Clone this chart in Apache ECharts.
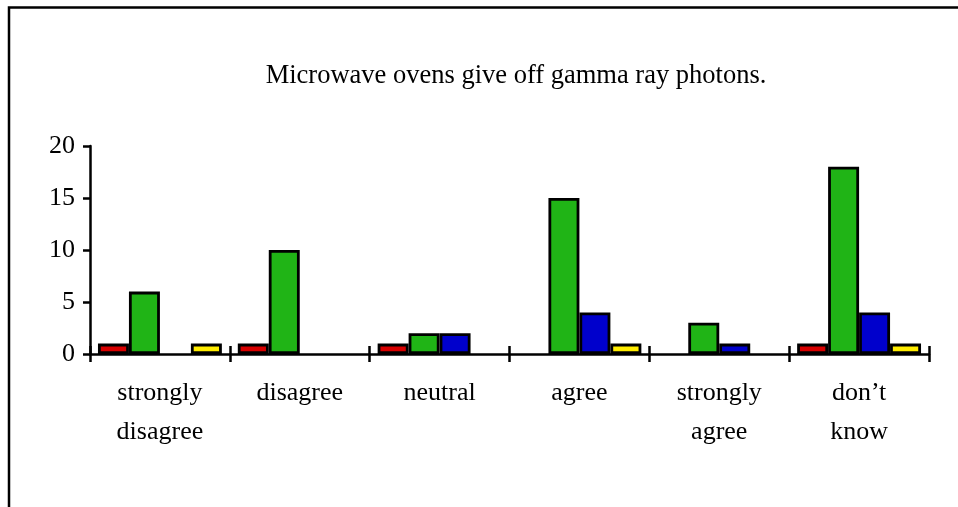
<!DOCTYPE html>
<html>
<head>
<meta charset="utf-8">
<title>Microwave ovens give off gamma ray photons.</title>
<script src="https://cdn.jsdelivr.net/npm/echarts@6/dist/echarts.min.js"></script>
<style>
  html, body { margin: 0; padding: 0; background: #ffffff; }
  #chart { width: 958px; height: 507px; }
</style>
</head>
<body>
<div id="chart"></div>
<script>
// Survey responses per answer category, one array per response group
const categories = ['strongly\ndisagree', 'disagree', 'neutral', 'agree', 'strongly\nagree', 'don\u2019t\nknow'];
const redValues    = [1, 1, 1, 0, 0, 1];
const greenValues  = [6, 10, 2, 15, 3, 18];
const blueValues   = [0, 0, 2, 4, 1, 4];
const yellowValues = [1, 0, 0, 1, 0, 1];
const yTicks = [0, 5, 10, 15, 20];

const FONT = '"Liberation Serif", "Times New Roman", serif';
const GRID = { left: 90, right: 29, top: 146, bottom: 153 };
const PLOT_HEIGHT = 507 - GRID.top - GRID.bottom;

function barSeries(name, values, color) {
  return {
    name: name,
    type: 'bar',
    data: values.map(v => (v === 0 ? null : v)),
    barGap: '0%',
    barCategoryGap: '11.4%',
    itemStyle: { color: color, borderColor: '#000000', borderWidth: 2.8 },
    emphasis: { disabled: true }
  };
}

const chart = echarts.init(document.getElementById('chart'), null, { renderer: 'canvas' });

chart.setOption({
  backgroundColor: '#ffffff',
  animation: false,
  title: {
    text: 'Microwave ovens give off gamma ray photons.',
    left: 511,
    textAlign: 'center',
    top: 58,
    textStyle: { fontFamily: FONT, fontSize: 26.5, fontWeight: 'normal', color: '#000000' }
  },
  graphic: [{
    type: 'rect',
    shape: { x: 9, y: 7.5, width: 1000, height: 600 },
    style: { fill: null, stroke: '#000000', lineWidth: 2.5 },
    silent: true
  }],
  grid: GRID,
  xAxis: [{
    type: 'category',
    data: categories,
    position: 'bottom',
    axisLine: { show: true, lineStyle: { color: '#000000', width: 2.5 } },
    axisTick: { show: true, alignWithLabel: false, inside: false, length: 8, lineStyle: { color: '#000000', width: 2.5 } },
    axisLabel: { fontFamily: FONT, fontSize: 26, color: '#000000', lineHeight: 39, margin: 20, interval: 0 },
    splitLine: { show: false }
  }, {
    // upper half of the crossing ticks on the category axis
    type: 'category',
    data: categories,
    position: 'top',
    offset: -PLOT_HEIGHT,
    axisLine: { show: false },
    axisTick: { show: true, alignWithLabel: false, inside: false, length: 8, lineStyle: { color: '#000000', width: 2.5 } },
    axisLabel: { show: false },
    splitLine: { show: false }
  }],
  yAxis: {
    type: 'value',
    min: yTicks[0],
    max: yTicks[yTicks.length - 1],
    interval: yTicks[1] - yTicks[0],
    axisLine: { show: true, lineStyle: { color: '#000000', width: 2.5 } },
    axisTick: { show: true, inside: false, length: 7, lineStyle: { color: '#000000', width: 2.5 } },
    axisLabel: { fontFamily: FONT, fontSize: 26, color: '#000000', margin: 15 },
    splitLine: { show: false }
  },
  series: [
    barSeries('Group 1', redValues, '#d80000'),
    barSeries('Group 2', greenValues, '#20b416'),
    barSeries('Group 3', blueValues, '#0000cc'),
    barSeries('Group 4', yellowValues, '#ffec00')
  ]
});
</script>
</body>
</html>
